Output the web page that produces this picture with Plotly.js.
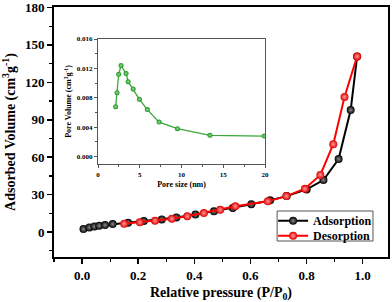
<!DOCTYPE html>
<html><head><meta charset="utf-8">
<script src="https://cdn.plot.ly/plotly-3.0.1.min.js"></script>
<style>html,body{margin:0;padding:0;background:#fff}#chart{width:392px;height:302px}</style>
</head><body><div id="chart"></div>
<script>
// Adsorption branch
const adsP = [0.005,0.026,0.044,0.061,0.082,0.109,0.164,0.220,0.284,0.336,0.404,0.470,0.537,0.603,0.670,0.729,0.800,0.860,0.914,0.957,0.980];
const adsV = [2.4,3.7,4.5,5.1,5.6,6.4,7.5,8.8,10.1,11.7,14.0,16.6,19.3,22.3,25.4,28.8,34.2,41.7,58.5,97.8,140.8];
// Desorption branch
const desP = [0.150,0.206,0.260,0.320,0.375,0.434,0.492,0.546,0.662,0.728,0.794,0.849,0.895,0.935,0.980];
const desV = [6.7,7.8,9.1,10.6,12.6,15.2,17.9,20.7,24.6,28.8,34.7,45.8,70.4,108.3,140.8];
// Pore size distribution (inset)
const poreSize = [2.1,2.27,2.47,2.75,3.35,3.6,4.2,4.95,5.9,7.3,9.5,13.4,19.9];
const poreVol = [0.0068,0.0087,0.0112,0.0124,0.0113,0.0102,0.0092,0.0078,0.0064,0.0047,0.0038,0.0029,0.0028];

const serif = 'Liberation Serif, Times New Roman, serif';
const traces = [
  {x: adsP, y: adsV, name: 'Adsorption', legend: 'legend', mode: 'lines+markers', type: 'scatter',
   line: {color: '#000', width: 2},
   marker: {color: '#000', size: 8, gradient: {type: 'radial', color: '#8a8a8a'}}},
  {x: desP, y: desV, name: 'Desorption', legend: 'legend2', mode: 'lines+markers', type: 'scatter',
   line: {color: '#ff0000', width: 2},
   marker: {color: '#e00000', size: 8, gradient: {type: 'radial', color: '#ff9a9a'}}},
  {x: poreSize, y: poreVol, xaxis: 'x2', yaxis: 'y2', showlegend: false, mode: 'lines+markers', type: 'scatter',
   line: {color: '#3aa83a', width: 1.3},
   marker: {color: '#1e8f1e', size: 5, gradient: {type: 'radial', color: '#8fe08f'}}}
];
const tickFont = {family: serif, size: 13, color: '#000', weight: 'bold'};
const smallFont = {family: serif, size: 7, color: '#000', weight: 'bold'};
const legFont = {family: serif, size: 12, color: '#000', weight: 'bold'};
const layout = {
  width: 392, height: 302,
  margin: {l: 54, r: 4, t: 7, b: 45},
  paper_bgcolor: '#fff', plot_bgcolor: '#fff',
  showlegend: true,
  legend: {x: 0.656, y: 0.145, xanchor: 'left', yanchor: 'middle', bgcolor: 'rgba(0,0,0,0)',
    borderwidth: 0, font: legFont, itemwidth: 30},
  legend2: {x: 0.656, y: 0.085, xanchor: 'left', yanchor: 'middle', bgcolor: 'rgba(0,0,0,0)',
    borderwidth: 0, font: legFont, itemwidth: 30},
  shapes: [{type: 'rect', xref: 'paper', yref: 'paper', x0: 0.668, x1: 0.955, y0: 0.064, y1: 0.184,
    line: {color: '#555', width: 1}, fillcolor: '#fff', layer: 'above'}],
  xaxis: {range: [-0.1, 1.09], tick0: 0, dtick: 0.2, tickformat: '.1f', showgrid: false, zeroline: false,
    showline: true, linecolor: '#000', linewidth: 2, mirror: true,
    ticks: 'outside', ticklen: 5, tickwidth: 1.5, tickcolor: '#000',
    minor: {dtick: 0.1, ticklen: 3, tickwidth: 1.2, tickcolor: '#000', ticks: 'outside'},
    tickfont: tickFont,
    title: {text: 'Relative pressure (P/P<sub>0</sub>)', font: {family: serif, size: 14, color: '#000', weight: 'bold'}, standoff: 6}},
  yaxis: {range: [-20, 180.4], tick0: 0, dtick: 30, showgrid: false, zeroline: false,
    showline: true, linecolor: '#000', linewidth: 2, mirror: true,
    ticks: 'outside', ticklen: 5, tickwidth: 1.5, tickcolor: '#000',
    minor: {dtick: 15, ticklen: 3, tickwidth: 1.2, tickcolor: '#000', ticks: 'outside'},
    tickfont: tickFont,
    title: {text: 'Adsorbed Volume (cm<sup>3</sup>g<sup>-1</sup>)', font: {family: serif, size: 14, color: '#000', weight: 'bold'}, standoff: 6}},
  xaxis2: {domain: [0.132, 0.632], anchor: 'y2', range: [0, 20], dtick: 5, showgrid: false, zeroline: false,
    showline: true, linecolor: '#555', linewidth: 1.3, mirror: true,
    ticks: 'outside', ticklen: 3, tickwidth: 1, tickcolor: '#555',
    minor: {dtick: 2.5, ticklen: 2, tickcolor: '#555', ticks: 'outside'},
    tickfont: smallFont,
    title: {text: 'Pore size (nm)', font: {family: serif, size: 8, color: '#000', weight: 'bold'}, standoff: 3}},
  yaxis2: {domain: [0.372, 0.872], anchor: 'x2', range: [-0.001, 0.016], tick0: 0, dtick: 0.004, tickformat: '.3f',
    showgrid: false, zeroline: false,
    showline: true, linecolor: '#555', linewidth: 1.3, mirror: true,
    ticks: 'outside', ticklen: 3, tickwidth: 1, tickcolor: '#555',
    minor: {dtick: 0.002, ticklen: 2, tickcolor: '#555', ticks: 'outside'},
    tickfont: smallFont,
    title: {text: 'Pore Volume (cm<sup>3</sup>g<sup>-1</sup>)', font: {family: serif, size: 8, color: '#000', weight: 'bold'}, standoff: 3}}
};
Plotly.newPlot('chart', traces, layout, {displayModeBar: false, staticPlot: true});
</script>
</body></html>
